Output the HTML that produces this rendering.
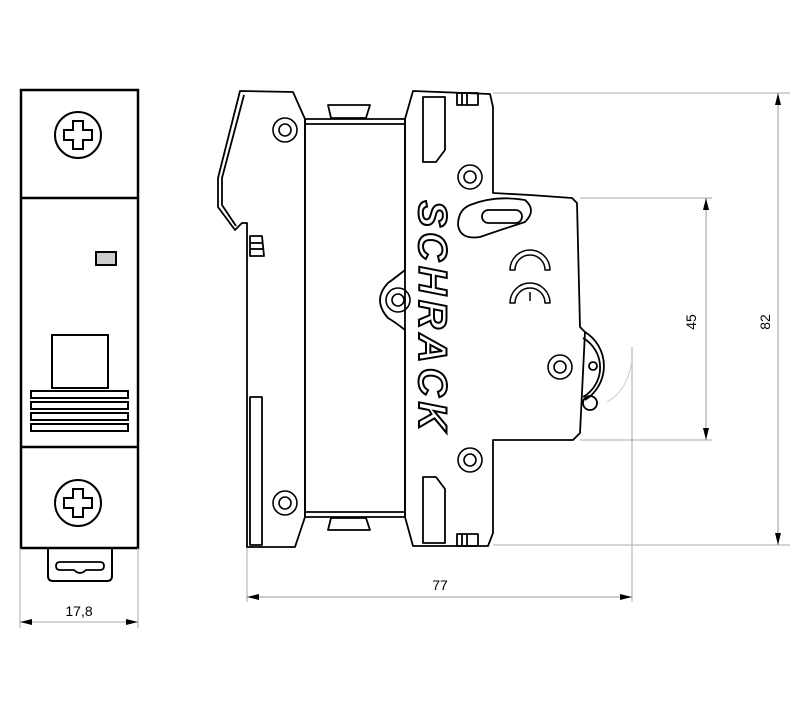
<!DOCTYPE html>
<html><head><meta charset="utf-8"><style>
html,body{margin:0;padding:0;background:#fff;}
svg{display:block;}
</style></head><body>
<svg width="800" height="707" viewBox="0 0 800 707" xmlns="http://www.w3.org/2000/svg" font-family="Liberation Sans, sans-serif">
<defs>
<marker id="ar" markerWidth="12" markerHeight="6" refX="12" refY="3" orient="auto-start-reverse" markerUnits="userSpaceOnUse"><path d="M0,0 L12,3 L0,6 z" fill="#000"/></marker>
</defs>
<!-- LEFT VIEW -->
<g fill="none" stroke="#000" stroke-width="2.5">
<rect x="21" y="90" width="117" height="458"/>
<line x1="21" y1="198" x2="138" y2="198"/>
<line x1="21" y1="447" x2="138" y2="447"/>
<circle cx="78" cy="135" r="23" stroke-width="2"/>
<circle cx="78" cy="503" r="23" stroke-width="2"/>
<path d="M73,121 h10 v9 h9 v10 h-9 v9 h-10 v-9 h-9 v-10 h9 z" stroke-width="2"/>
<path d="M73,489 h10 v9 h9 v10 h-9 v9 h-10 v-9 h-9 v-10 h9 z" stroke-width="2"/>
<rect x="96" y="252" width="20" height="13" fill="#ccc" stroke-width="2"/>
<rect x="52" y="335" width="56" height="53" stroke-width="2"/>
<rect x="31" y="391" width="97" height="7" stroke-width="2"/>
<rect x="31" y="402" width="97" height="7" stroke-width="2"/>
<rect x="31" y="413" width="97" height="7" stroke-width="2"/>
<rect x="31" y="424" width="97" height="7" stroke-width="2"/>
<path d="M48,548 v28 q0,5 5,5 h54 q5,0 5,-5 v-28" stroke-width="2"/>
<path d="M60,562 h40 q4,0 4,4 q0,4 -4,4 h-14 q-6,6 -12,0 h-14 q-4,0 -4,-4 q0,-4 4,-4 z" stroke-width="1.8"/>
</g>
<g stroke="#aaa" stroke-width="1">
<line x1="20" y1="548" x2="20" y2="628"/>
<line x1="138" y1="548" x2="138" y2="628"/>
<line x1="20" y1="622" x2="138" y2="622" marker-end="url(#ar)" marker-start="url(#ar)"/>
</g>
<text x="79" y="616" font-size="14" text-anchor="middle">17,8</text>

<!-- RIGHT VIEW -->
<g fill="none" stroke="#000" stroke-width="1.8" stroke-linejoin="round">
<path d="M240,91 L293,92 L305,119 L305,517 L295,547 L247,547 L247,223 L242,223 L235,230 L218,207 L218,178 Z"/>
<path d="M244,95 L222,178 L222,205 L236,226"/>
<rect x="305" y="119" width="100" height="398"/>
<line x1="305" y1="124" x2="405" y2="124"/>
<line x1="305" y1="512" x2="405" y2="512"/>
<path d="M328,105 L370,105 L366,118 L331,118 Z"/>
<path d="M328,530 L370,530 L366,518 L331,518 Z"/>
<path d="M250,236 L262,236 L264,256 L250,256 Z"/>
<line x1="250" y1="243" x2="263" y2="243"/><line x1="250" y1="249" x2="264" y2="249"/>
<rect x="250" y="397" width="12" height="148"/>
<path d="M413,91 L490,94 L493,107 L493,193 L530,195 L572,198 L577,203 L580,327 L585,332 L580,433 L573,440 L493,440 L493,533 L488,546 L413,546 L405,517 L405,330 Q395,322 388,318 Q372,300 388,283 Q395,278 405,270 L405,119 Z"/>
<path d="M423,97 L445,97 L445,150 L436,162 L423,162 Z"/>
<path d="M423,543 L445,543 L445,489 L436,477 L423,477 Z"/>
<rect x="457" y="93" width="21" height="12"/>
<line x1="462" y1="93" x2="462" y2="105"/><line x1="467" y1="93" x2="467" y2="105"/>
<rect x="457" y="534" width="21" height="12"/>
<line x1="462" y1="534" x2="462" y2="546"/><line x1="467" y1="534" x2="467" y2="546"/>
<path d="M470,205 Q495,195 525,200 Q537,210 525,222 Q500,230 480,237 Q460,240 458,225 Q458,210 470,205 Z"/>
<rect x="482" y="210" width="40" height="13" rx="6.5"/>
<path d="M550,270 A20,20 0 0 0 510,270 L515,270 A15,15 0 0 1 545,270 Z" stroke-width="1.5"/>
<path d="M550,303 A20,20 0 0 0 510,303 L515,303 A15,15 0 0 1 545,303 Z" stroke-width="1.5"/>
<line x1="530" y1="292" x2="530" y2="301" stroke-width="1.5"/>
<path d="M585,332 A40,40 0 0 1 585,400" />
<path d="M583,338 A34,34 0 0 1 583,397" />
<circle cx="593" cy="366" r="4"/>
<circle cx="590" cy="403" r="7"/>
</g>
<g fill="none" stroke="#000" stroke-width="1.6">
<circle cx="285" cy="130" r="12"/><circle cx="285" cy="130" r="6"/>
<circle cx="470" cy="177" r="12"/><circle cx="470" cy="177" r="6"/>
<circle cx="398" cy="300" r="12"/><circle cx="398" cy="300" r="6"/>
<circle cx="560" cy="367" r="12"/><circle cx="560" cy="367" r="6"/>
<circle cx="470" cy="460" r="12"/><circle cx="470" cy="460" r="6"/>
<circle cx="285" cy="503" r="12"/><circle cx="285" cy="503" r="6"/>
</g>
<text transform="translate(419,318) rotate(90)" font-size="40" font-weight="bold" font-style="italic" text-anchor="middle" fill="#fff" stroke="#000" stroke-width="2" letter-spacing="5">SCHRACK</text>

<g stroke="#aaa" stroke-width="1" fill="none">
<line x1="493" y1="93" x2="790" y2="93"/>
<line x1="493" y1="545" x2="790" y2="545"/>
<line x1="778" y1="93" x2="778" y2="545" marker-end="url(#ar)" marker-start="url(#ar)" stroke="#999"/>
<line x1="580" y1="198" x2="712" y2="198"/>
<line x1="580" y1="440" x2="712" y2="440"/>
<line x1="706" y1="198" x2="706" y2="440" marker-end="url(#ar)" marker-start="url(#ar)" stroke="#999"/>
<line x1="247" y1="548" x2="247" y2="602"/>
<line x1="632" y1="347" x2="632" y2="602"/>
<line x1="247" y1="597" x2="632" y2="597" marker-end="url(#ar)" marker-start="url(#ar)" stroke="#999"/>
<path d="M607,402 Q628,390 632,360" stroke="#ccc"/>
</g>
<text transform="translate(696,322) rotate(-90)" font-size="14" text-anchor="middle">45</text>
<text transform="translate(770,322) rotate(-90)" font-size="14" text-anchor="middle">82</text>
<text x="440" y="590" font-size="14" text-anchor="middle">77</text>
</svg>
</body></html>
